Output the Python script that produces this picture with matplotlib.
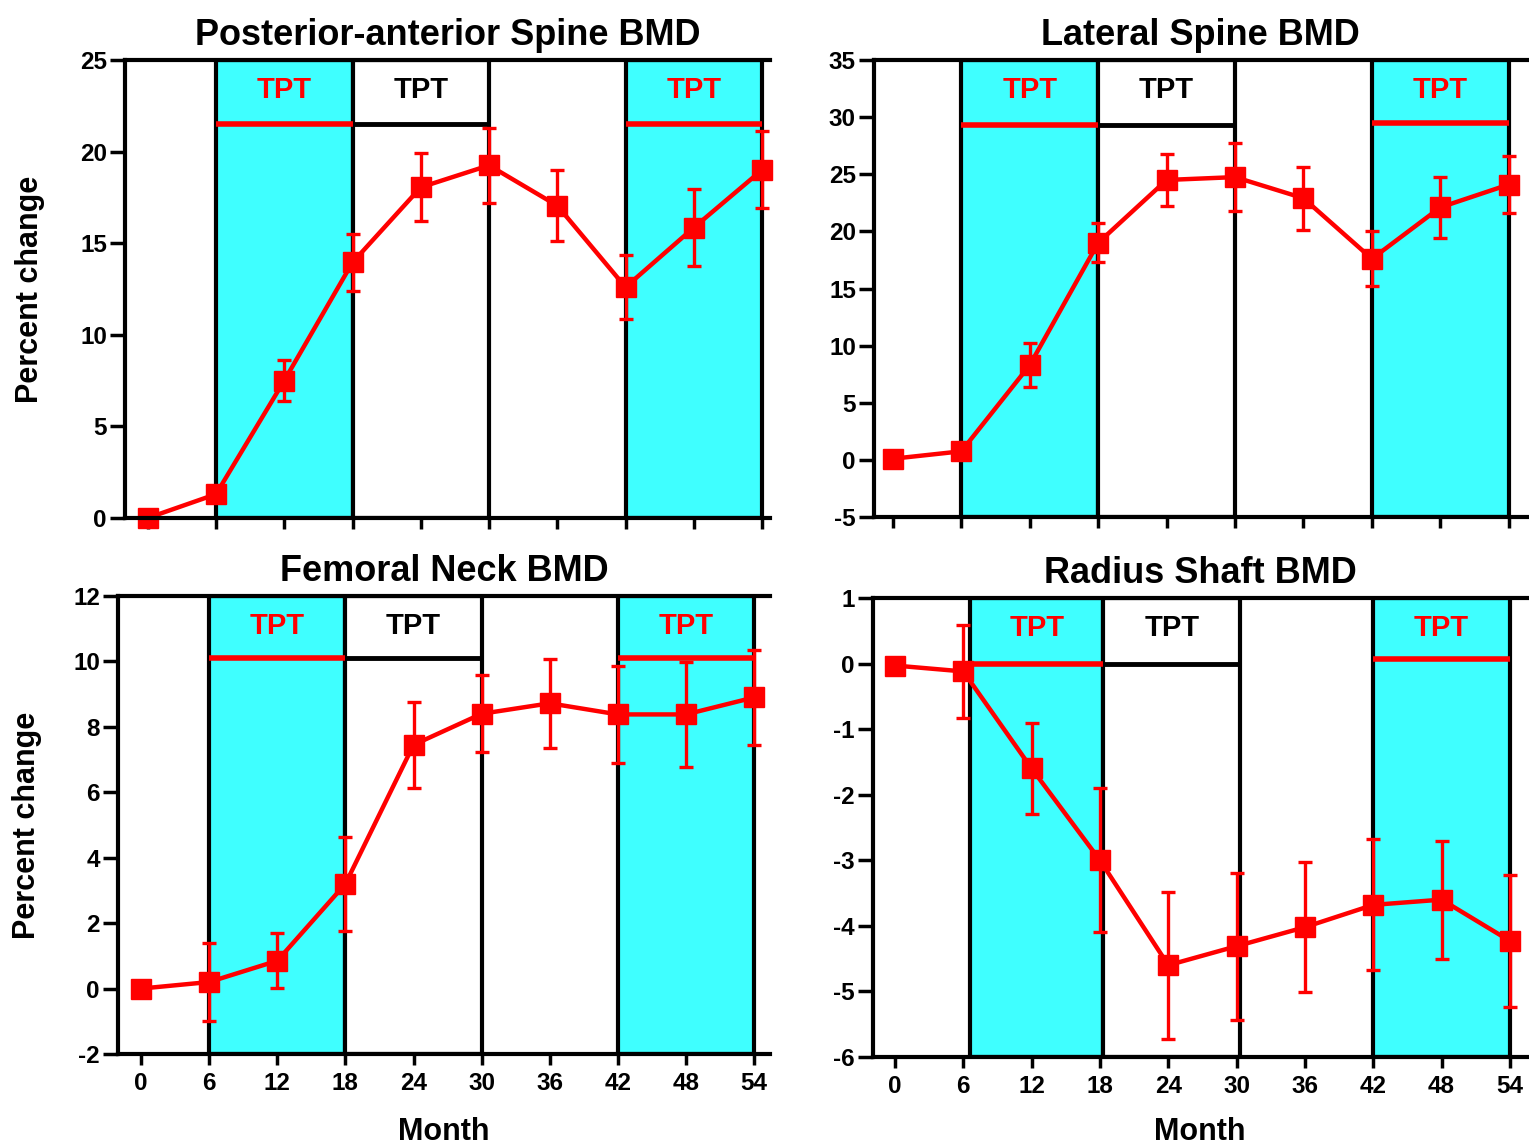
import matplotlib
matplotlib.use("Agg")
import matplotlib.pyplot as plt
from matplotlib.patches import Rectangle

plt.rcParams['font.family'] = ['Liberation Sans', 'DejaVu Sans']
plt.rcParams['font.weight'] = 'bold'
plt.rcParams['axes.unicode_minus'] = False

# ---------------- data ----------------
months = [0, 6, 12, 18, 24, 30, 36, 42, 48, 54]
month_labels = ["0", "6", "12", "18", "24", "30", "36", "42", "48", "54"]

titles = ["Posterior-anterior Spine BMD", "Lateral Spine BMD",
          "Femoral Neck BMD", "Radius Shaft BMD"]

pa_mean = [0.0, 1.3, 7.5, 13.95, 18.05, 19.25, 17.05, 12.6, 15.85, 19.0]
pa_err = [0.0, 0.3, 1.1, 1.55, 1.85, 2.05, 1.95, 1.75, 2.1, 2.1]

lat_mean = [0.1, 0.75, 8.3, 19.0, 24.5, 24.75, 22.9, 17.6, 22.1, 24.1]
lat_err = [0.0, 0.5, 1.9, 1.7, 2.25, 2.95, 2.75, 2.4, 2.65, 2.5]

fn_mean = [0.0, 0.2, 0.85, 3.2, 7.45, 8.4, 8.72, 8.38, 8.38, 8.9]
fn_err = [0.0, 1.18, 0.84, 1.43, 1.32, 1.17, 1.36, 1.47, 1.6, 1.46]

rs_mean = [-0.03, -0.12, -1.6, -3.0, -4.6, -4.31, -4.02, -3.68, -3.6, -4.23]
rs_err = [0.0, 0.71, 0.69, 1.1, 1.12, 1.12, 0.99, 1.0, 0.9, 1.0]

means = [pa_mean, lat_mean, fn_mean, rs_mean]
errs = [pa_err, lat_err, fn_err, rs_err]

yticks = [list(range(0, 26, 5)), list(range(-5, 36, 5)),
          list(range(-2, 13, 2)), list(range(-6, 2, 1))]

# treatment periods (months): cyan TPT, white TPT, cyan TPT
tpt1 = [(6, 18), (6, 18), (6, 18), (6.6, 18.3)]
tpt2 = [(18, 30), (18, 30), (18, 30), (18.3, 30.3)]
tpt3 = [(42, 54), (42, 54), (42, 54), (42, 54)]
bar_level1 = [21.5, 29.3, 10.1, 0.0]
bar_level3 = [21.5, 29.5, 10.1, 0.07]

# ---------------- layout ----------------
W, H = 1529, 1148
fig = plt.figure(figsize=(W / 100, H / 100), dpi=100)
CYAN = '#3FFFFF'
RED = '#FF0000'

# (left px, top px, right px, bottom px)
boxes_px = [(125, 60, 770, 518), (874, 60, 1527, 517),
            (118, 596, 770, 1054), (873, 598, 1527, 1057)]
xlims = [(-2.0, 54.7), (-1.66, 55.6), (-2.03, 55.4), (-1.93, 55.5)]
ylab_x = [-0.124, None, -0.117, None]
xlab_y = [None, None, -0.1375, -0.131]

for i in range(4):
    l, t, r, b = boxes_px[i]
    ax = fig.add_axes([l / W, 1 - b / H, (r - l) / W, (b - t) / H])
    ylo, yhi = yticks[i][0], yticks[i][-1]
    ax.set_xlim(*xlims[i])
    ax.set_ylim(ylo, yhi)

    # treatment boxes
    for (x0, x1), fc in [(tpt1[i], CYAN), (tpt2[i], 'white'), (tpt3[i], CYAN)]:
        ax.add_patch(Rectangle((x0, ylo), x1 - x0, yhi - ylo, facecolor=fc,
                               edgecolor='black', linewidth=3, zorder=1))
    ax.plot(tpt1[i], [bar_level1[i]] * 2, color=RED, lw=4, zorder=2,
            solid_capstyle='butt')
    ax.plot(tpt2[i], [bar_level1[i]] * 2, color='black', lw=3.5, zorder=2,
            solid_capstyle='butt')
    ax.plot(tpt3[i], [bar_level3[i]] * 2, color=RED, lw=4, zorder=2,
            solid_capstyle='butt')

    ty = ylo + (yhi - ylo) * 0.935
    ax.text(sum(tpt1[i]) / 2, ty, "TPT", color=RED, fontsize=21,
            ha='center', va='center', fontweight='bold', zorder=3)
    ax.text(sum(tpt2[i]) / 2, ty, "TPT", color='black', fontsize=21,
            ha='center', va='center', fontweight='bold', zorder=3)
    ax.text(sum(tpt3[i]) / 2, ty, "TPT", color=RED, fontsize=21,
            ha='center', va='center', fontweight='bold', zorder=3)

    ax.errorbar(months, means[i], yerr=errs[i], color=RED, lw=3.2,
                elinewidth=2.4, capsize=5, capthick=2.4, marker='s',
                markersize=15, markerfacecolor=RED, markeredgecolor=RED,
                zorder=4, clip_on=False)

    for s in ['left', 'bottom', 'top']:
        ax.spines[s].set_linewidth(3)
        ax.spines[s].set_zorder(5)
    ax.spines['right'].set_visible(False)

    ax.set_yticks(yticks[i])
    ax.set_xticks(months)
    ax.tick_params(axis='y', direction='out', length=11, width=2.5,
                   labelsize=17.5, pad=2)
    ax.tick_params(axis='x', direction='out', length=8, width=2.5,
                   labelsize=17.5, pad=5)
    if xlab_y[i] is not None:
        ax.set_xticklabels(month_labels)
        ax.set_xlabel("Month", fontsize=22, fontweight='bold')
        ax.xaxis.set_label_coords(0.5, xlab_y[i])
    else:
        ax.set_xticklabels([])
    if ylab_x[i] is not None:
        ax.set_ylabel("Percent change", fontsize=22, fontweight='bold')
        ax.yaxis.set_label_coords(ylab_x[i], 0.5)
    for lab in ax.get_xticklabels() + ax.get_yticklabels():
        lab.set_fontweight('bold')
    ax.set_title(titles[i], fontsize=26, fontweight='bold', pad=11)

fig.savefig("out.png", dpi=100)
